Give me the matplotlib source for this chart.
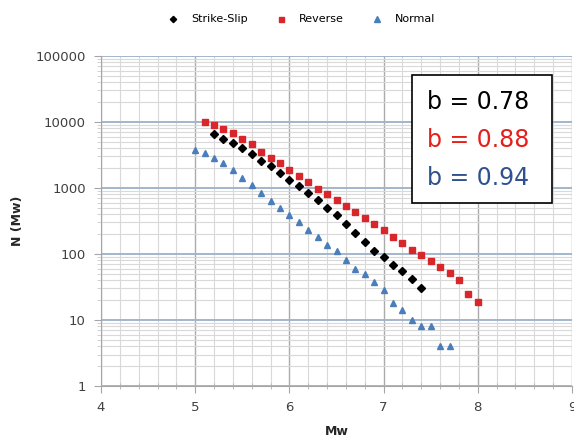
import matplotlib.pyplot as plt
import numpy as np
from matplotlib.ticker import MultipleLocator, LogLocator, NullFormatter, FixedLocator
from matplotlib.patches import Rectangle

# magnitudes and cumulative counts
mw_ss = [5.2, 5.3, 5.4, 5.5, 5.6, 5.7, 5.8, 5.9, 6.0, 6.1, 6.2, 6.3,
         6.4, 6.5, 6.6, 6.7, 6.8, 6.9, 7.0, 7.1, 7.2, 7.3, 7.4]
n_ss = [6460, 5480, 4710, 3990, 3270, 2570, 2150, 1700, 1320, 1080, 840, 650,
        500, 390, 280, 205, 150, 112, 90, 67, 55, 42, 30]

mw_rev = [5.1, 5.2, 5.3, 5.4, 5.5, 5.6, 5.7, 5.8, 5.9, 6.0, 6.1, 6.2, 6.3, 6.4, 6.5,
          6.6, 6.7, 6.8, 6.9, 7.0, 7.1, 7.2, 7.3, 7.4, 7.5, 7.6, 7.7, 7.8, 7.9, 8.0]
n_rev = [9800, 8900, 7780, 6690, 5480, 4600, 3550, 2880, 2360, 1870, 1510, 1230, 980, 800, 650,
         530, 436, 350, 286, 233, 182, 147, 116, 95, 79, 63, 51, 41, 25, 19]

mw_nor = [5.0, 5.1, 5.2, 5.3, 5.4, 5.5, 5.6, 5.7, 5.8, 5.9, 6.0, 6.1, 6.2, 6.3,
          6.4, 6.5, 6.6, 6.7, 6.8, 6.9, 7.0, 7.1, 7.2, 7.3, 7.4, 7.5, 7.6, 7.7]
n_nor = [3720, 3440, 2820, 2410, 1870, 1430, 1100, 850, 640, 495, 390, 303, 230, 182,
         138, 110, 80, 59, 49, 38, 28, 18, 14, 10, 8, 8, 4, 4]

b_labels = ["b = 0.78", "b = 0.88", "b = 0.94"]
b_colors = ["#000000", "#e3201b", "#2f528f"]

fig = plt.figure(figsize=(5.74, 4.40), dpi=100)
ax = fig.add_axes([0.176, 0.1227, 0.8205, 0.7503])

ax.plot(mw_ss, n_ss, 'D', color='black', markersize=4, label='Strike-Slip', zorder=3)
ax.plot(mw_rev, n_rev, 's', color='#d9262a', markersize=4.5, label='Reverse', zorder=3)
ax.plot(mw_nor, n_nor, '^', color='#4a7ebb', markersize=5, label='Normal', zorder=3)

ax.set_yscale('log')
ax.set_xlim(4, 9)
ax.set_ylim(1, 100000)
ax.xaxis.set_major_locator(MultipleLocator(1))
ax.xaxis.set_minor_locator(MultipleLocator(0.2))
ax.yaxis.set_major_locator(FixedLocator([1, 10, 100, 1000, 10000, 100000]))
ax.yaxis.set_major_formatter(plt.FuncFormatter(lambda v, p: "%d" % v))
ax.yaxis.set_minor_locator(LogLocator(base=10, subs=np.arange(2, 10)))
ax.yaxis.set_minor_formatter(NullFormatter())

ax.grid(which='major', axis='y', color='#a3b5cc', linewidth=1.4)
ax.grid(which='minor', axis='y', color='#d9d9d9', linewidth=0.8)
ax.grid(which='major', axis='x', color='#ababab', linewidth=1.0)
ax.grid(which='minor', axis='x', color='#d9d9d9', linewidth=0.8)
ax.set_axisbelow(True)

for s in ['top', 'right']:
    ax.spines[s].set_visible(False)
for s in ['left', 'bottom']:
    ax.spines[s].set_color('#a6a6a6')

ax.tick_params(which='major', axis='both', length=5, color='#a6a6a6',
               labelsize=9.5, labelcolor='#404040', pad=6)
ax.tick_params(which='minor', axis='x', length=4, direction='inout', color='#b0b0b0')
ax.tick_params(which='minor', axis='y', length=3, color='#cccccc')

ax.set_xlabel('Mw', fontsize=9, fontweight='bold', color='#262626', labelpad=8)
ax.set_ylabel('N (Mw)', fontsize=9, fontweight='bold', color='#262626', labelpad=8)

# b-value box
ax.add_patch(Rectangle((0.660, 0.555), 0.2975, 0.387, transform=ax.transAxes,
                       facecolor='white', edgecolor='black', linewidth=1.2, zorder=4))
for i, (lbl, c) in enumerate(zip(b_labels, b_colors)):
    ax.text(0.692, 0.861 - i * 0.1155, lbl, transform=ax.transAxes, fontsize=17,
            color=c, va='center', ha='left', zorder=5)

fig.legend(loc='upper center', bbox_to_anchor=(0.52, 0.99), ncol=3, frameon=False,
           fontsize=8, handletextpad=0.6, columnspacing=2.0, markerscale=0.8)

fig.savefig('out.png', dpi=100)
